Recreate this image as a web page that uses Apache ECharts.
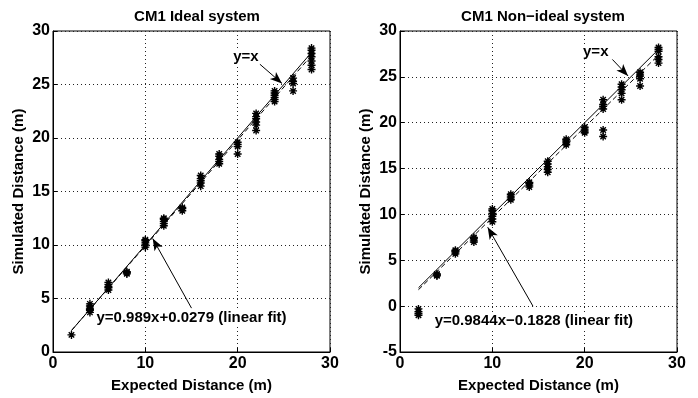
<!DOCTYPE html>
<html>
<head>
<meta charset="utf-8">
<script src="https://cdn.jsdelivr.net/npm/echarts@6/dist/echarts.min.js"></script>
<style>
  html, body { margin: 0; padding: 0; background: #fff; }
  #main { width: 698px; height: 398px; }
</style>
</head>
<body>
<div id="main"></div>
<script>
// expected distances (m)
var expectedX = [2, 4, 6, 8, 10, 12, 14, 16, 18, 20, 22, 24, 26, 28];
// simulated distances per expected distance, ideal system
var idealSim = [
  [1.6],
  [3.7, 3.9, 4.0, 4.1, 4.3, 4.5],
  [5.8, 6.0, 6.1, 6.3, 6.5],
  [7.3, 7.4, 7.5],
  [9.8, 10.0, 10.2, 10.4, 10.5],
  [11.8, 12.0, 12.2, 12.4, 12.5],
  [13.2, 13.4, 13.5],
  [15.5, 15.8, 16.0, 16.2, 16.5],
  [17.6, 17.8, 18.0, 18.3, 18.5],
  [18.5, 19.2, 19.4, 19.6],
  [20.7, 21.2, 21.5, 21.8, 22.0, 22.3],
  [23.4, 23.6, 23.8, 24.0, 24.2, 24.4],
  [24.4, 25.1, 25.3, 25.6],
  [26.4, 26.8, 27.2, 27.6, 27.9, 28.2, 28.4]
];
// simulated distances, non-ideal system
var nonIdealSim = [
  [-1.0, -0.8, -0.6, -0.3],
  [3.3, 3.4, 3.5],
  [5.7, 5.9, 6.0, 6.1],
  [7.0, 7.2, 7.4, 7.5],
  [9.2, 9.5, 9.8, 10.1, 10.4, 10.6],
  [11.6, 11.8, 12.0, 12.2],
  [13.0, 13.2, 13.4, 13.5],
  [14.6, 14.9, 15.2, 15.5, 15.8],
  [17.6, 17.8, 18.0, 18.2],
  [18.9, 19.1, 19.3, 19.5],
  [18.5, 19.2, 21.5, 21.8, 22.0, 22.5],
  [22.5, 23.2, 23.6, 23.9, 24.2],
  [24.0, 24.8, 25.1, 25.3, 25.5],
  [26.5, 26.9, 27.2, 27.8, 28.0, 28.2]
];
// line end points
var idealLine = [[2, 2], [28, 28]];
var idealFit = [[2, 2.01], [28, 27.72]];
var nonIdealFit = [[2, 1.79], [28, 27.38]];
var titles = ['CM1 Ideal system', 'CM1 Non\u2212ideal system'];
var fitTexts = ['y=0.989x+0.0279 (linear fit)', 'y=0.9844x\u22120.1828 (linear fit)'];
// annotation positions [textX, textY, arrowFromX, arrowFromY, arrowToX, arrowToY]
var yxNote = [[20.9, 27.6, 22.4, 26.9, 24.8, 25.1], [21.2, 27.7, 23.0, 26.9, 24.7, 25.1]];
var fitNote = [[15.0, 3.2, 15.0, 4.1, 10.8, 10.6], [14.5, -1.6, 14.4, 0.0, 9.5, 8.6]];

var FONT = 'Liberation Sans, Arial, sans-serif';
var STAR = 'path://M5,0L5,10M0,5L10,5M1.6,1.6L8.4,8.4M8.4,1.6L1.6,8.4';

function toPoints(sim) {
  var pts = [];
  for (var i = 0; i < expectedX.length; i++) {
    for (var j = 0; j < sim[i].length; j++) {
      pts.push([expectedX[i], sim[i][j]]);
    }
  }
  return pts;
}

var chart = echarts.init(document.getElementById('main'));

var grids = [
  { left: 53, top: 31, width: 277, height: 326, show: true, borderColor: '#000', borderWidth: 1 },
  { left: 400, top: 31, width: 277, height: 326, show: true, borderColor: '#000', borderWidth: 1 }
];

function xAxis(idx) {
  return {
    gridIndex: idx, type: 'value', min: 0, max: 30, interval: 10,
    name: 'Expected Distance (m)', nameLocation: 'middle', nameGap: 26,
    nameTextStyle: { fontFamily: FONT, fontWeight: 'bold', fontSize: 15, color: '#000' },
    axisLine: { show: true, onZero: false, lineStyle: { color: '#000' } },
    axisTick: { inside: true, length: 4, lineStyle: { color: '#000' } },
    axisLabel: { fontFamily: FONT, fontWeight: 'bold', fontSize: 16, color: '#000', margin: 4 },
    splitLine: { show: true, lineStyle: { color: '#222', type: [1, 3], width: 1 } }
  };
}
function yAxis(idx, min) {
  return {
    gridIndex: idx, type: 'value', min: min, max: 30, interval: 5,
    name: 'Simulated Distance (m)', nameLocation: 'middle', nameGap: 27,
    nameTextStyle: { fontFamily: FONT, fontWeight: 'bold', fontSize: 15, color: '#000' },
    axisLine: { show: true, onZero: false, lineStyle: { color: '#000' } },
    axisTick: { inside: true, length: 4, lineStyle: { color: '#000' } },
    axisLabel: { fontFamily: FONT, fontWeight: 'bold', fontSize: 16, color: '#000', margin: 3 },
    splitLine: { show: true, lineStyle: { color: '#222', type: [1, 3], width: 1 } }
  };
}

function panelSeries(idx, sim, fit, yx, fn) {
  return [
    {
      type: 'scatter', xAxisIndex: idx, yAxisIndex: idx,
      data: toPoints(sim), symbol: STAR, symbolSize: 8,
      itemStyle: { color: 'transparent', borderColor: '#000', borderWidth: 1.4, opacity: 1 },
      silent: true, z: 3
    },
    {
      type: 'line', xAxisIndex: idx, yAxisIndex: idx, data: idealLine,
      showSymbol: false, lineStyle: { color: '#000', width: 1 }, silent: true, z: 4,
      markLine: {
        silent: true, symbol: ['none', 'arrow'], symbolSize: [7, 12],
        lineStyle: { color: '#000', width: 1, type: 'solid' }, label: { show: false },
        data: [
          [{ coord: [yx[2], yx[3]] }, { coord: [yx[4], yx[5]] }],
          [{ coord: [fn[2], fn[3]] }, { coord: [fn[4], fn[5]] }]
        ]
      }
    },
    {
      type: 'line', xAxisIndex: idx, yAxisIndex: idx, data: fit,
      showSymbol: false, lineStyle: { color: '#000', width: 1, type: [5, 3] }, silent: true, z: 4
    },
    {
      type: 'scatter', xAxisIndex: idx, yAxisIndex: idx, symbolSize: 0, silent: true, z: 6,
      itemStyle: { opacity: 1 },
      data: [[yx[0], yx[1], 'y=x'], [fn[0], fn[1], fitTexts[idx]]],
      label: {
        show: true, position: 'inside', formatter: function (p) { return p.value[2]; },
        fontFamily: FONT, fontWeight: 'bold', fontSize: 15, color: '#000', opacity: 1,
        backgroundColor: '#fff', padding: [0, 1]
      }
    }
  ];
}

chart.setOption({
  animation: false,
  backgroundColor: '#fff',
  title: [
    { text: titles[0], left: 192, top: 4, textAlign: 'center',
      textStyle: { fontFamily: FONT, fontWeight: 'bold', fontSize: 15, color: '#000' } },
    { text: titles[1], left: 538, top: 4, textAlign: 'center',
      textStyle: { fontFamily: FONT, fontWeight: 'bold', fontSize: 15, color: '#000' } }
  ],
  grid: grids,
  xAxis: [xAxis(0), xAxis(1)],
  yAxis: [yAxis(0, 0), yAxis(1, -5)],
  series: panelSeries(0, idealSim, idealFit, yxNote[0], fitNote[0])
    .concat(panelSeries(1, nonIdealSim, nonIdealFit, yxNote[1], fitNote[1]))
});
</script>
</body>
</html>
